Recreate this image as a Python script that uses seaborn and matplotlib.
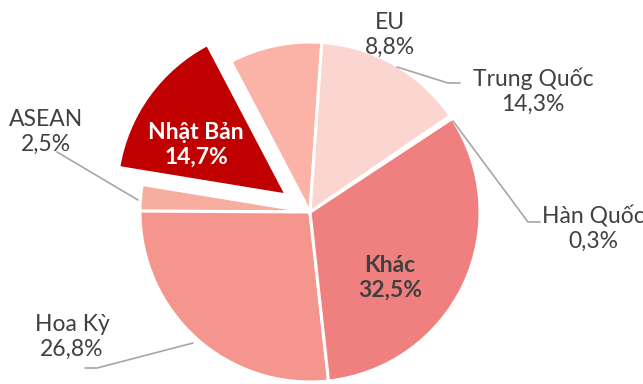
import matplotlib
matplotlib.use("Agg")
import matplotlib.pyplot as plt
import seaborn as sns

# data (counter-clockwise from the top)
countries = ["EU", "Nhật Bản", "ASEAN", "Hoa Kỳ", "Khác", "Hàn Quốc", "Trung Quốc"]
shares = [8.8, 14.7, 2.5, 26.8, 32.5, 0.3, 14.3]
colors = ["#FBB3A7", "#C00000", "#F8AE9F", "#F4968D", "#F08080", "#F5A59B", "#FBD5D0"]
explode_px = [0, 29, 0, 0, 0, 0, 0]

sns.set_style("white")
plt.rcParams["font.family"] = ["Lato", "DejaVu Sans"]

W, H = 643, 384
fig = plt.figure(figsize=(W / 100, H / 100), dpi=100)
ax = fig.add_axes([0, 0, 1, 1])

cx, cy, r = 310, H - 212, 170
ax.pie(shares, colors=colors, explode=explode_px, startangle=86,
       counterclock=True, center=(cx, cy), radius=r,
       wedgeprops=dict(edgecolor="white", linewidth=2.2))
ax.set_xlim(0, W)
ax.set_ylim(0, H)
ax.set_aspect("equal")
ax.axis("off")


def fmt(v):
    return f"{v:.1f}%".replace(".", ",")


# label centers in pixel coords (y from top)
label_pos = {
    "EU": (390, 35),
    "Nhật Bản": (196, 145),
    "ASEAN": (46, 132),
    "Hoa Kỳ": (72, 337),
    "Khác": (390, 278),
    "Hàn Quốc": (593, 229),
    "Trung Quốc": (533, 91),
}
gray = "#404040"
for name, val in zip(countries, shares):
    px, py = label_pos[name]
    style = dict(ha="center", va="center", fontsize=16.5, linespacing=1.2)
    if name == "Nhật Bản":
        style.update(color="white", fontweight="bold")
    elif name == "Khác":
        style.update(color=gray, fontweight="bold")
    else:
        style.update(color=gray)
    ax.text(px, H - py, f"{name}\n{fmt(val)}", **style)

# leader lines (pixel coords, y from top)
leaders = [
    [(397, 67), (448, 83), (460, 83)],
    [(453, 121), (528, 222), (540, 222)],
    [(193, 343), (97, 368), (85, 368)],
    [(138, 200), (57, 152)],
]
for pts in leaders:
    xs = [p[0] for p in pts]
    ys = [H - p[1] for p in pts]
    ax.plot(xs, ys, color="#A6A6A6", linewidth=1.2)

fig.savefig("out.png", dpi=100)
